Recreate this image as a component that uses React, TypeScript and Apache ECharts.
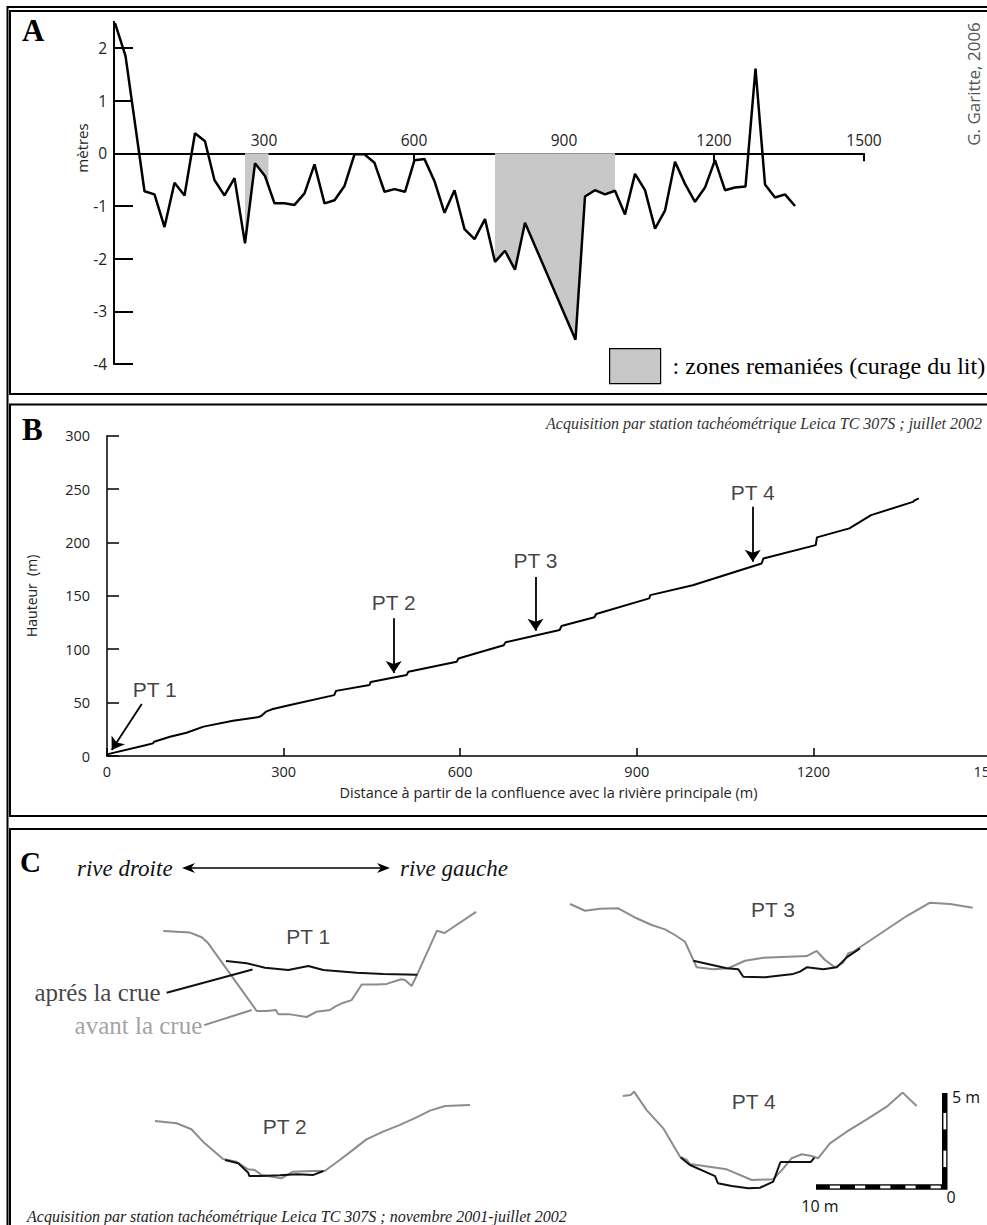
import React, { useEffect, useRef } from "react";
import * as echarts from "echarts";

// ---------- Panel A: bed profile relative to the mean slope ----------
const A_DIST = [2, 23, 61, 81, 101, 121, 141, 162, 182, 201, 221, 241, 262, 282, 302, 321, 341, 361, 381, 401, 421, 441, 461, 481, 501, 521, 541, 561, 582, 601, 621, 641, 661, 681, 701, 721, 742, 762, 782, 802, 822, 923, 942, 962, 982, 1002, 1022, 1042, 1062, 1082, 1102, 1122, 1142, 1162, 1182, 1202, 1222, 1242, 1263, 1283, 1302, 1322, 1342, 1362];
const A_DEPTH = [2.47, 1.85, -0.72, -0.78, -1.4, -0.56, -0.8, 0.38, 0.23, -0.51, -0.8, -0.47, -1.71, -0.19, -0.43, -0.95, -0.95, -0.98, -0.76, -0.21, -0.95, -0.89, -0.62, -0.02, -0.02, -0.18, -0.73, -0.68, -0.73, -0.13, -0.11, -0.53, -1.13, -0.7, -1.44, -1.63, -1.25, -2.06, -1.85, -2.21, -1.32, -3.54, -0.82, -0.7, -0.78, -0.71, -1.16, -0.39, -0.7, -1.43, -1.09, -0.16, -0.58, -0.92, -0.65, -0.13, -0.7, -0.65, -0.63, 1.61, -0.59, -0.84, -0.78, -1.0];
// reworked stretches of the bed (curage du lit), distance from / to
const A_ZONES = [[262, 309], [762, 1002]];
const A_X_TICKS = [300, 600, 900, 1200, 1500];
const A_Y_TICKS = [-4, -3, -2, -1, 0, 1, 2];

// ---------- Panel B: longitudinal profile ----------
const B_DIST = [0, 67, 78, 80, 107, 135, 164, 214, 258, 262, 270, 280, 311, 386, 389, 446, 448, 509, 512, 594, 597, 633, 674, 677, 769, 772, 828, 831, 921, 923, 995, 1112, 1115, 1204, 1206, 1261, 1298, 1369, 1372, 1379];
const B_HEIGHT = [1.5, 10.3, 11.8, 13.4, 18, 21.8, 27.5, 33, 36.5, 37.5, 41.5, 43.7, 47.8, 57, 61, 66.5, 69.4, 75.8, 79, 88.3, 91.4, 97.1, 103.8, 106.5, 118, 121.7, 129.9, 133, 147.6, 150.7, 160, 180.3, 185, 197.5, 204.8, 213.2, 225.6, 238, 239.5, 241.3];
// cross-section stations: arrow from / to and label centre, in (distance, height)
const B_STATIONS = [
  { name: "PT 1", from: [59, 48.7], to: [8, 5.6], label: [81, 62.7] },
  { name: "PT 2", from: [487, 129], to: [487, 77.7], label: [487, 144] },
  { name: "PT 3", from: [728, 167.6], to: [728, 117.3], label: [728, 183] },
  { name: "PT 4", from: [1097, 233.4], to: [1097, 181.9], label: [1097, 247] },
];

// ---------- Panel C: cross sections (metres across, metres above the lowest point) ----------
const PT1_AVANT = [[0, 4.57], [2.12, 4.49], [3.05, 4.24], [3.57, 3.92], [7.41, 0.32], [8.21, 0.32], [8.94, 0.37], [9.13, 0.14], [10.06, 0.14], [11.38, 0], [12.17, 0.28], [13.23, 0.37], [13.63, 0.55], [14.29, 0.76], [14.95, 0.9], [15.75, 1.73], [16.94, 1.73], [17.73, 1.76], [18.87, 2.01], [19.18, 1.97], [19.71, 1.65], [20.17, 2.29], [21.72, 4.59], [22.32, 4.47], [24.82, 5.59]];
const PT1_APRES = [[4.98, 2.98], [6.62, 2.86], [8.07, 2.62], [9.92, 2.5], [11.51, 2.71], [12.7, 2.5], [15.35, 2.36], [17.46, 2.29], [20.16, 2.25]];
const PT2_AVANT = [[0, 3.05], [1.72, 2.93], [2.89, 2.61], [3.81, 1.95], [5.4, 1.03], [6.46, 0.88], [7.38, 0.48], [7.91, 0.44], [8.44, 0.18], [10.03, 0], [10.95, 0.35], [12.54, 0.39], [13.47, 0.39], [14.66, 0.97], [15.71, 1.51], [16.78, 2.07], [18.1, 2.48], [19.44, 2.84], [20.76, 3.24], [21.82, 3.6], [23.02, 3.85], [25.0, 3.9]];
const PT2_APRES = [[5.56, 0.97], [6.61, 0.8], [7.4, 0.3], [7.48, 0.12], [8.33, 0.12], [9.92, 0.16], [11.25, 0.21], [12.57, 0.18], [13.37, 0.39]];
const PT3_AVANT = [[0, 3.9], [1.19, 3.54], [2.38, 3.65], [3.83, 3.67], [5.29, 3.14], [6.48, 2.78], [7.54, 2.55], [8.33, 2.25], [9.13, 1.89], [9.79, 0.92], [10.06, 0.53], [11.37, 0.43], [12.56, 0.48], [13.89, 0.88], [15.34, 1.04], [18.79, 1.13], [19.58, 1.4], [20.24, 0.92], [21.03, 0.53], [21.69, 0.78], [22.09, 1.28], [22.48, 1.36], [26.72, 3.26], [28.57, 3.97], [30.16, 3.9], [31.96, 3.7]];
const PT3_APRES = [[9.79, 0.88], [12.44, 0.48], [13.36, 0.43], [13.75, 0.03], [15.48, 0], [17.72, 0.18], [18.25, 0.3], [18.79, 0.53], [20.1, 0.43], [21.17, 0.53], [21.96, 1.06], [23.02, 1.54]];
const PT4_AVANT = [[0, 4.91], [0.63, 4.96], [0.9, 5.14], [1.9, 4.16], [3.22, 3.19], [4.55, 1.68], [5.08, 1.51], [5.34, 1.29], [8.25, 1.01], [10.24, 0.44], [11.95, 0.48], [12.75, 1.06], [13.41, 1.6], [14.21, 1.81], [15.0, 1.72], [15.52, 1.6], [16.45, 2.39], [17.78, 3.01], [19.37, 3.67], [20.95, 4.34], [22.22, 5.09], [23.33, 4.38]];
const PT4_APRES = [[4.6, 1.64], [5.34, 1.24], [7.33, 0.65], [7.55, 0.27], [8.65, 0.12], [9.97, 0], [10.9, 0.03], [11.95, 0.36], [12.52, 1.4], [14.94, 1.4], [15.21, 1.63]];

const SECTIONS = [
  { name: "PT 1", avant: PT1_AVANT, apres: PT1_APRES, origin: [163.3, 1017], label: [11.5, 4.27] },
  { name: "PT 2", avant: PT2_AVANT, apres: PT2_APRES, origin: [155, 1178.3], label: [10.3, 2.78] },
  { name: "PT 3", avant: PT3_AVANT, apres: PT3_APRES, origin: [570, 977.3], label: [16.1, 3.62] },
  { name: "PT 4", avant: PT4_AVANT, apres: PT4_APRES, origin: [622.7, 1188.3], label: [10.4, 4.62] },
];
// leader lines of the PT 1 legend (label anchor -> curve)
const PT1_NOTES = [
  { text: "aprés la crue", from: [0.27, 1.29], to: [7.08, 2.53], color: "#111", gap: 6 },
  { text: "avant la crue", from: [3.25, -0.43], to: [7.02, 0.37], color: "#8a8a8a", gap: 2 },
];
const SCALE_X_M = 10;
const SCALE_Y_M = 5;

// drawing scales of the cross sections (px per metre)
const SX = 12.6;
const SY = 18.8;
const SEC_X = [-1, 33];
const SEC_Y = [-1, 6];

const SANS = '"Open Sans", "DejaVu Sans", sans-serif';
const ARIAL = '"Liberation Sans", Arial, sans-serif';
const SERIF = '"Liberation Serif", "Times New Roman", serif';
const GREY_LINE = "#8c8c8c";
const plain = (v: number) => String(v);

function depthAt(x: number) {
  for (let i = 0; i < A_DIST.length - 1; i++) {
    if (A_DIST[i] <= x && x <= A_DIST[i + 1]) {
      const t = (x - A_DIST[i]) / (A_DIST[i + 1] - A_DIST[i]);
      return A_DEPTH[i] + (A_DEPTH[i + 1] - A_DEPTH[i]) * t;
    }
  }
  return 0;
}

function zoneData(a: number, b: number) {
  const pts: number[][] = [[a, depthAt(a)]];
  A_DIST.forEach((d, i) => {
    if (d > a && d < b) pts.push([d, A_DEPTH[i]]);
  });
  pts.push([b, depthAt(b)]);
  return pts;
}

function buildOption() {
  const grids: any[] = [];
  const xAxes: any[] = [];
  const yAxes: any[] = [];
  const series: any[] = [];

  // ----- Panel A -----
  const aMin = -4;
  const aMax = 2.5;
  const aPxY = 52.67;
  grids.push({ left: 114, top: 364 - (aMax - aMin) * aPxY, width: 750, height: (aMax - aMin) * aPxY, outerBoundsMode: "none" });
  xAxes.push({
    type: "value", gridIndex: 0, min: 0, max: 1500,
    // the distance axis runs along the zero level
    axisLine: { onZero: false, lineStyle: { color: "#000", width: 2 } },
    offset: aMin * aPxY,
    axisTick: { show: true, inside: false, length: 8, customValues: A_X_TICKS, lineStyle: { color: "#000", width: 2 } },
    axisLabel: { inside: true, margin: 5, customValues: A_X_TICKS, formatter: plain, fontFamily: SANS, fontSize: 15.5, color: "#222" },
    splitLine: { show: false },
  });
  yAxes.push({
    type: "value", gridIndex: 0, min: aMin, max: aMax,
    axisLine: { show: true, onZero: false, lineStyle: { color: "#000", width: 2 } },
    axisTick: { show: true, inside: true, length: 19, customValues: A_Y_TICKS, lineStyle: { color: "#000", width: 2 } },
    axisLabel: { margin: 7, customValues: A_Y_TICKS, formatter: plain, fontFamily: SANS, fontSize: 15.5, color: "#222" },
    splitLine: { show: false },
  });
  A_ZONES.forEach(([a, b]) => {
    series.push({
      type: "line", name: "zones", xAxisIndex: 0, yAxisIndex: 0, data: zoneData(a, b),
      symbol: "none", silent: true, color: "#c8c8c8",
      lineStyle: { width: 0, color: "#c8c8c8" }, itemStyle: { color: "#c8c8c8" },
      areaStyle: { color: "#c8c8c8", opacity: 1, origin: "auto" }, z: 2,
    });
  });
  series.push({
    type: "line", name: "profil", xAxisIndex: 0, yAxisIndex: 0,
    data: A_DIST.map((d, i) => [d, A_DEPTH[i]]), symbol: "none", silent: true,
    lineStyle: { color: "#000", width: 2.5 }, z: 3,
  });

  // ----- Panel B -----
  const bPxX = 883 / 1500;
  grids.push({ left: 107, top: 435.7, width: 1500 * bPxX, height: 320.3, outerBoundsMode: "none" });
  xAxes.push({
    type: "value", gridIndex: 1, min: 0, max: 1500, interval: 300,
    axisLine: { lineStyle: { color: "#000", width: 1.5 } },
    axisTick: { show: true, inside: true, length: 8, lineStyle: { color: "#000", width: 1.5 } },
    axisLabel: { margin: 8, formatter: plain, fontFamily: SANS, fontSize: 14.5, color: "#222" },
    splitLine: { show: false },
    name: "Distance à partir de la confluence avec la rivière principale (m)",
    nameLocation: "middle", nameGap: 29,
    nameTextStyle: { fontFamily: SANS, fontSize: 14.5, color: "#222" },
  });
  yAxes.push({
    type: "value", gridIndex: 1, min: 0, max: 300, interval: 50,
    axisLine: { show: true, lineStyle: { color: "#000", width: 1.5 } },
    axisTick: { show: true, inside: true, length: 12, lineStyle: { color: "#000", width: 1.5 } },
    axisLabel: { margin: 17, formatter: plain, fontFamily: SANS, fontSize: 14.5, color: "#222" },
    splitLine: { show: false },
    name: "Hauteur  (m)", nameLocation: "middle", nameGap: 69, nameRotate: 90,
    nameTextStyle: { fontFamily: SANS, fontSize: 14, color: "#222" },
  });
  series.push({
    type: "line", name: "long", xAxisIndex: 1, yAxisIndex: 1,
    data: B_DIST.map((d, i) => [d, B_HEIGHT[i]]), symbol: "none", silent: true,
    lineStyle: { color: "#000", width: 2 },
    markLine: {
      silent: true, symbol: ["none", "arrow"], symbolSize: 12, precision: 2,
      lineStyle: { color: "#000", width: 1.8, type: "solid" },
      label: { show: false }, emphasis: { disabled: true },
      data: B_STATIONS.map((s) => [{ coord: s.from }, { coord: s.to }]),
    },
  });
  series.push({
    type: "scatter", xAxisIndex: 1, yAxisIndex: 1, symbolSize: 0, silent: true, clip: false,
    data: B_STATIONS.map((s) => ({ name: s.name, value: s.label })),
    label: { show: true, position: "inside", formatter: "{b}", fontFamily: ARIAL, fontSize: 21, color: "#111" },
  });

  // ----- Panel C -----
  SECTIONS.forEach((s, k) => {
    const gi = 2 + k;
    grids.push({
      left: s.origin[0] + SEC_X[0] * SX, top: s.origin[1] - SEC_Y[1] * SY,
      width: (SEC_X[1] - SEC_X[0]) * SX, height: (SEC_Y[1] - SEC_Y[0]) * SY, outerBoundsMode: "none",
    });
    xAxes.push({ type: "value", gridIndex: gi, min: SEC_X[0], max: SEC_X[1], show: false });
    yAxes.push({ type: "value", gridIndex: gi, min: SEC_Y[0], max: SEC_Y[1], show: false });
    series.push({
      type: "line", name: s.name + " avant", xAxisIndex: gi, yAxisIndex: gi, data: s.avant,
      symbol: "none", silent: true, clip: false, lineStyle: { color: GREY_LINE, width: 2 }, z: 2,
    });
    series.push({
      type: "line", name: s.name + " après", xAxisIndex: gi, yAxisIndex: gi, data: s.apres,
      symbol: "none", silent: true, clip: false, lineStyle: { color: "#111", width: 2 }, z: 3,
    });
    series.push({
      type: "scatter", xAxisIndex: gi, yAxisIndex: gi, symbolSize: 0, silent: true, clip: false,
      data: [{ name: s.name, value: s.label }],
      label: { show: true, position: "inside", formatter: "{b}", fontFamily: ARIAL, fontSize: 21, color: "#111" },
    });
  });
  PT1_NOTES.forEach((n) => {
    series.push({
      type: "line", xAxisIndex: 2, yAxisIndex: 2, data: [n.from, n.to], symbol: "none",
      silent: true, clip: false, lineStyle: { color: n.color, width: 2 }, z: 4,
    });
    series.push({
      type: "scatter", xAxisIndex: 2, yAxisIndex: 2, symbolSize: 0, silent: true, clip: false,
      data: [{ name: n.text, value: n.from }],
      label: { show: true, position: "left", distance: n.gap, formatter: "{b}", fontFamily: SERIF, fontSize: 25, color: n.color },
    });
  });

  // scale bar (0 at the corner, 10 m to the left, 5 m up)
  const corner = [942, 1187];
  grids.push({ left: corner[0] - SCALE_X_M * SX, top: corner[1] - SCALE_Y_M * SY, width: SCALE_X_M * SX, height: SCALE_Y_M * SY, outerBoundsMode: "none" });
  xAxes.push({ type: "value", gridIndex: 6, min: 0, max: SCALE_X_M, inverse: true, show: false });
  yAxes.push({ type: "value", gridIndex: 6, min: 0, max: SCALE_Y_M, show: false });
  series.push({
    type: "custom", xAxisIndex: 6, yAxisIndex: 6, silent: true, clip: false,
    data: [[0, 0]],
    renderItem: (_p: any, api: any) => {
      const c = (x: number, y: number) => api.coord([x, y]);
      const o = c(0, 0);
      const l = c(SCALE_X_M, 0);
      const t = c(0, SCALE_Y_M);
      const th = 5.5;
      const ch: any[] = [];
      ch.push({ type: "rect", shape: { x: l[0], y: o[1] - th / 2, width: o[0] - l[0], height: th }, style: { fill: "#000" } });
      for (let i = 0; i < SCALE_X_M; i += 2) {
        const a = c(i + 1, 0)[0];
        const b = c(i, 0)[0];
        ch.push({ type: "rect", shape: { x: a + 1.2, y: o[1] - 1.4, width: b - a - 2.4, height: 2.8 }, style: { fill: "#fff" } });
      }
      ch.push({ type: "rect", shape: { x: o[0], y: t[1], width: th, height: o[1] + th / 2 - t[1] }, style: { fill: "#000" } });
      for (let j = 1; j < SCALE_Y_M; j += 2) {
        const a = c(0, j + 1)[1];
        const b = c(0, j)[1];
        ch.push({ type: "rect", shape: { x: o[0] + 1.4, y: a + 1.2, width: 2.8, height: b - a - 2.4 }, style: { fill: "#fff" } });
      }
      const txt = (text: string, x: number, y: number, align: string) => ({
        type: "text",
        style: { text, x, y, align, verticalAlign: "middle", fontFamily: SANS, fontSize: 16, fill: "#111" },
      });
      ch.push(txt(SCALE_X_M + " m", l[0] + 4, o[1] + 19, "center"));
      ch.push(txt("0", o[0] + 9, o[1] + 10, "center"));
      ch.push(txt(SCALE_Y_M + " m", t[0] + 10, t[1] + 4, "left"));
      return { type: "group", children: ch };
    },
  });

  // ----- frames and free texts -----
  const frame = (x: number, y: number, w: number, h: number, lw: number) => ({
    type: "rect", shape: { x, y, width: w, height: h }, style: { fill: "none", stroke: "#000", lineWidth: lw }, silent: true,
  });
  const text = (t: string, x: number, y: number, o: any) => ({
    type: "text", x, y, rotation: o.rotation || 0, silent: true,
    style: {
      text: t, x: 0, y: 0, align: o.align || "left", verticalAlign: "middle",
      fontFamily: o.family || SANS, fontSize: o.size || 14, fontStyle: o.italic ? "italic" : "normal",
      fontWeight: o.bold ? "bold" : "normal", fill: o.color || "#111",
    },
  });
  const graphic: any[] = [
    frame(7.5, 7, 1000, 1240, 2),
    frame(10, 11, 1000, 383, 2),
    frame(10, 404.5, 1000, 411.5, 2),
    frame(10, 829, 1000, 420, 2),
    text("A", 22, 30, { family: SERIF, size: 31, bold: true, color: "#000" }),
    text("B", 22, 429, { family: SERIF, size: 31, bold: true, color: "#000" }),
    text("C", 20, 862, { family: SERIF, size: 29, bold: true, color: "#000" }),
    text("mètres", 82, 148, { size: 15, rotation: Math.PI / 2, align: "center", color: "#222" }),
    text("G. Garitte, 2006", 973, 84, { size: 17, rotation: Math.PI / 2, align: "center", color: "#555" }),
    text("Acquisition par station tachéométrique Leica TC 307S ; juillet 2002", 982, 423, { family: SERIF, size: 16, italic: true, align: "right", color: "#333" }),
    text("Acquisition par station tachéométrique Leica TC 307S ; novembre 2001-juillet 2002", 27, 1216, { family: SERIF, size: 16, italic: true, color: "#222" }),
    text("rive droite", 77, 868, { family: SERIF, size: 23, italic: true, color: "#111" }),
    text("rive gauche", 400, 868, { family: SERIF, size: 23, italic: true, color: "#111" }),
    { type: "line", silent: true, shape: { x1: 188, y1: 868, x2: 384, y2: 868 }, style: { stroke: "#000", lineWidth: 1.6 } },
    { type: "polygon", silent: true, shape: { points: [[182, 868], [195, 863], [191, 868], [195, 873]] }, style: { fill: "#000" } },
    { type: "polygon", silent: true, shape: { points: [[390, 868], [377, 863], [381, 868], [377, 873]] }, style: { fill: "#000" } },
  ];

  return {
    animation: false,
    backgroundColor: "#ffffff",
    grid: grids,
    xAxis: xAxes,
    yAxis: yAxes,
    series,
    legend: {
      show: true, left: 609, top: 348, padding: 0, selectedMode: false,
      itemWidth: 51, itemHeight: 35,
      data: [{ name: "zones", icon: "rect", itemStyle: { color: "#c8c8c8", borderColor: "#000", borderWidth: 1.2 } }],
      formatter: () => ": zones remaniées (curage du lit)",
      textStyle: { fontFamily: SERIF, fontSize: 24, color: "#000", padding: [0, 0, 0, 7] },
    },
    graphic,
  };
}

export default function App() {
  const ref = useRef<HTMLDivElement>(null);
  useEffect(() => {
    if (!ref.current) return;
    const chart = echarts.init(ref.current, undefined, { renderer: "svg" });
    chart.setOption(buildOption() as any);
    return () => chart.dispose();
  }, []);
  return (
    <div
      ref={ref}
      style={{ position: "absolute", left: 0, top: 0, width: 987, height: 1225, background: "#fff" }}
    />
  );
}
